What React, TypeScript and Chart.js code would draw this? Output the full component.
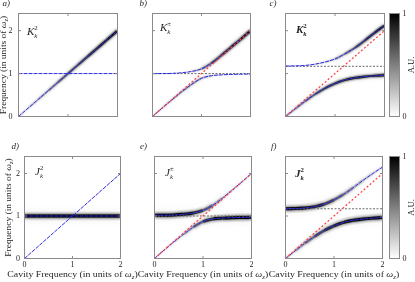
import React, { useEffect, useRef } from "react";
import { Chart, registerables } from "chart.js";
Chart.register(...registerables);

// ---------------- data ----------------
const X_GRID = [0, 0.2, 0.4, 0.6, 0.8, 1.0, 1.2, 1.4, 1.6, 1.8, 2.0];
const X_TICKS = [0, 1, 2];
const Y_TICKS = [0, 1, 2];
const CB_TICKS = [0, 1];

// bare modes (panels a, d)
const CAVITY_MODE = [0, 0.2, 0.4, 0.6, 0.8, 1.0, 1.2, 1.4, 1.6, 1.8, 2.0];
const MATTER_MODE = [1, 1, 1, 1, 1, 1, 1, 1, 1, 1, 1];

// polariton branches
const B_UPPER = [1.0, 1.0, 1.005, 1.02, 1.05, 1.11, 1.24, 1.42, 1.61, 1.8, 2.0];
const B_LOWER = [0, 0.2, 0.39, 0.58, 0.75, 0.89, 0.95, 0.97, 0.98, 0.985, 0.99];
const C_UPPER = [1.175, 1.18, 1.19, 1.22, 1.27, 1.34, 1.46, 1.6, 1.77, 1.95, 2.12];
const C_LOWER = [0, 0.18, 0.36, 0.52, 0.66, 0.77, 0.85, 0.9, 0.93, 0.95, 0.96];
const E_UPPER = [1.02, 1.02, 1.025, 1.04, 1.07, 1.13, 1.25, 1.42, 1.61, 1.8, 2.0];
const E_LOWER = [0, 0.2, 0.39, 0.57, 0.74, 0.87, 0.93, 0.95, 0.96, 0.965, 0.97];
const F_UPPER = [1.17, 1.175, 1.19, 1.22, 1.28, 1.38, 1.51, 1.67, 1.84, 2.0, 2.15];
const F_LOWER = [0, 0.18, 0.36, 0.52, 0.66, 0.77, 0.85, 0.9, 0.93, 0.95, 0.965];

// reference lines
const DIAG_X = [0, 2];
const DIAG_Y = [0, 2];
const B_BARE = [1.0, 1.0];
const C_BARE = [1.17, 1.17];
const E_BARE = [1.0, 1.0];
const F_BARE = [1.17, 1.17];

// spectral density intensity (A.U.) along each branch
const A_DIAG_INT = [0.05, 0.1, 0.15, 0.25, 0.35, 0.45, 0.55, 0.65, 0.75, 0.85, 0.95];
const B_UP_INT = [0.02, 0.02, 0.02, 0.03, 0.06, 0.2, 0.45, 0.6, 0.72, 0.85, 0.95];
const B_LO_INT = [0.05, 0.08, 0.12, 0.18, 0.22, 0.2, 0.1, 0.05, 0.03, 0.02, 0.02];
const C_UP_INT = [0.02, 0.02, 0.03, 0.05, 0.08, 0.15, 0.3, 0.45, 0.6, 0.75, 0.85];
const C_LO_INT = [0.1, 0.2, 0.3, 0.45, 0.6, 0.7, 0.75, 0.78, 0.8, 0.8, 0.8];
const D_MATTER_INT = [1, 1, 1, 1, 1, 1, 1, 1, 1, 1, 1];
const E_UP_INT = [1, 1, 1, 0.95, 0.8, 0.5, 0.25, 0.12, 0.06, 0.04, 0.03];
const E_LO_INT = [0.03, 0.04, 0.06, 0.1, 0.25, 0.5, 0.8, 0.95, 1, 1, 1];
const F_UP_INT = [0.95, 0.95, 0.9, 0.8, 0.65, 0.45, 0.3, 0.2, 0.12, 0.08, 0.06];
const F_LO_INT = [0.05, 0.12, 0.25, 0.4, 0.6, 0.75, 0.85, 0.9, 0.92, 0.92, 0.92];

// ---------------- styling helpers ----------------
const FONT = '"Liberation Serif", "Times New Roman", serif';
const TXT = "#262626";
const FRAME = "#8a8a8a";
const BLUE = "#2b2be6";

function line(xs: number[], ys: number[], extra: any) {
  return {
    data: xs.map((x, i) => ({ x, y: ys[i] })),
    pointRadius: 0,
    fill: false,
    borderWidth: 1,
    cubicInterpolationMode: "monotone",
    clip: 0,
    ...extra,
  };
}
const blue = (ys: number[]) => line(X_GRID, ys, { borderColor: BLUE, borderWidth: 1, borderDash: [4, 1] });
const red = () => line(DIAG_X, DIAG_Y, { borderColor: "#ff3b3b", borderWidth: 1.2, borderDash: [2, 2] });
const gray = (lvl: number[]) => line(DIAG_X, lvl, { borderColor: "#6a6a6a", borderWidth: 1, borderDash: [2, 1.5] });
function density(ys: number[], ints: number[], broad: boolean) {
  const seg = (k: number) => ({
    borderColor: (c: any) =>
      `rgba(0,0,0,${Math.min(1, ((ints[c.p0DataIndex] + ints[c.p1DataIndex]) / 2) * k).toFixed(3)})`,
  });
  return [
    line(X_GRID, ys, { borderWidth: broad ? 3 : 2.2, glow: broad ? 3 : 2.5, segment: seg(1), borderColor: "rgba(0,0,0,0)" }),
    line(X_GRID, ys, { borderWidth: broad ? 9 : 5, glow: broad ? 8 : 5, segment: seg(broad ? 0.06 : 0.1), borderColor: "rgba(0,0,0,0)" }),
  ];
}

type Part = { t: string; it?: boolean; b?: boolean; s?: number; dy?: number; over?: boolean };
function drawRich(ctx: CanvasRenderingContext2D, parts: Part[], x: number, y: number, size: number, align: string, sx = 1) {
  const fontOf = (p: Part) => `${p.it ? "italic " : ""}${p.b ? "bold " : ""}${(size * (p.s || 1)).toFixed(2)}px ${FONT}`;
  const pos: number[] = [];
  let cx = 0, last = 0;
  for (const p of parts) {
    ctx.font = fontOf(p);
    const w = ctx.measureText(p.t).width;
    if (p.over) { pos.push(last); cx = Math.max(cx, last + w); }
    else { pos.push(cx); last = cx; cx += w; }
  }
  const start = align === "center" ? -cx / 2 : 0;
  ctx.save();
  ctx.translate(x, y);
  ctx.scale(sx, 1);
  ctx.textBaseline = "alphabetic";
  ctx.textAlign = "left";
  parts.forEach((p, i) => { ctx.font = fontOf(p); ctx.fillText(p.t, start + pos[i], (p.dy || 0) * size); });
  ctx.restore();
}
const symbol = (base: string, sup: string, bold: boolean): Part[] => [
  { t: base, it: true, b: bold },
  { t: "k", it: true, b: bold, s: 0.62, dy: 0.3 },
  { t: sup, s: 0.62, dy: -0.42, over: true, b: bold },
];
const OMEGA_TITLE = (lead: string): Part[] => [
  { t: lead + "(in units of " },
  { t: "ω", it: true },
  { t: "z", it: true, s: 0.7, dy: 0.22 },
  { t: ")" },
];

const glowPlugin = {
  id: "glow",
  beforeDatasetDraw(chart: any, args: any) {
    const ds = chart.data.datasets[args.index];
    if (ds.glow) { chart.ctx.save(); chart.ctx.shadowColor = "rgba(0,0,0,1)"; chart.ctx.shadowBlur = ds.glow; }
  },
  afterDatasetDraw(chart: any, args: any) {
    const ds = chart.data.datasets[args.index];
    if (ds.glow) chart.ctx.restore();
  },
};

function framePlugin(p: any) {
  return {
    id: "frame",
    afterDraw(chart: any) {
      const { ctx, chartArea: a, scales } = chart;
      ctx.save();
      ctx.strokeStyle = FRAME;
      ctx.lineWidth = 1;
      ctx.strokeRect(a.left, a.top, a.right - a.left, a.bottom - a.top);
      if (!p.cb) {
        const tl = 2.5;
        ctx.beginPath();
        X_TICKS.forEach((v) => {
          const px = scales.x.getPixelForValue(v);
          ctx.moveTo(px, a.bottom); ctx.lineTo(px, a.bottom - tl);
          ctx.moveTo(px, a.top); ctx.lineTo(px, a.top + tl);
        });
        Y_TICKS.forEach((v) => {
          const py = scales.y.getPixelForValue(v);
          ctx.moveTo(a.left, py); ctx.lineTo(a.left + tl, py);
          ctx.moveTo(a.right, py); ctx.lineTo(a.right - tl, py);
        });
        ctx.stroke();
      }
      ctx.fillStyle = TXT;
      if (p.letter) drawRich(ctx, [{ t: p.letter.t, it: true }], p.letter.x - p.L, p.letter.y - p.T, 9, "left");
      if (p.sym) drawRich(ctx, p.sym.parts, p.sym.x - p.L, p.sym.y - p.T, 11, "left");
      if (p.yTitle) {
        ctx.save();
        ctx.translate(p.yTitle.x - p.L, (a.top + a.bottom) / 2);
        ctx.rotate(-Math.PI / 2);
        drawRich(ctx, OMEGA_TITLE("Frequency "), 0, 0, 8, "center", 1.18);
        ctx.restore();
      }
      if (p.xTitle) drawRich(ctx, OMEGA_TITLE("Cavity Frequency "), (a.left + a.right) / 2, p.xTitle - p.T, 8.5, "center", 1.15);
      if (p.cb) {
        ctx.save();
        ctx.translate(p.cbTitleX - p.L, (a.top + a.bottom) / 2);
        ctx.rotate(-Math.PI / 2);
        drawRich(ctx, [{ t: "A.U." }], 0, 0, 8.5, "center");
        ctx.restore();
      }
      ctx.restore();
    },
  };
}

function panelConfig(p: any) {
  const [x0, y0, x1, y1] = p.area;
  const tickFont = { family: FONT, size: 8 };
  return {
    type: "line",
    data: { datasets: p.datasets },
    options: {
      responsive: false,
      animation: false,
      events: [],
      layout: { padding: { left: 0, top: y0 - p.T, right: p.L + p.W - x1, bottom: 0 } },
      plugins: { legend: { display: false }, tooltip: { enabled: false } },
      scales: {
        x: {
          type: "linear", min: 0, max: 2,
          grid: { display: false, drawTicks: false }, border: { display: false },
          ticks: { display: !!p.xLabels, font: tickFont, color: TXT, padding: 2, maxRotation: 0 },
          afterBuildTicks: (ax: any) => { ax.ticks = X_TICKS.map((v) => ({ value: v })); },
          afterFit: (ax: any) => { ax.height = p.T + p.H - y1; },
        },
        y: {
          type: "linear", min: 0, max: 2.4,
          grid: { display: false, drawTicks: false }, border: { display: false },
          ticks: { display: !!p.yLabels, autoSkip: false, font: tickFont, color: TXT, padding: p.yPad || 4 },
          afterBuildTicks: (ax: any) => { ax.ticks = Y_TICKS.map((v) => ({ value: v })); },
          afterFit: (ax: any) => { ax.width = x0 - p.L; },
        },
      },
    },
    plugins: [glowPlugin, framePlugin(p)],
  };
}

function colorbarConfig(p: any) {
  const [x0, y0, x1, y1] = p.area;
  return {
    type: "bar",
    data: {
      labels: [""],
      datasets: [{
        data: [1],
        barPercentage: 1,
        categoryPercentage: 1,
        borderWidth: 0,
        backgroundColor: (c: any) => {
          const { ctx, chartArea } = c.chart;
          if (!chartArea) return "#888";
          const g = ctx.createLinearGradient(0, chartArea.bottom, 0, chartArea.top);
          g.addColorStop(0, "#ffffff");
          g.addColorStop(1, "#000000");
          return g;
        },
      }],
    },
    options: {
      responsive: false,
      animation: false,
      events: [],
      layout: { padding: { left: x0 - p.L, top: y0 - p.T, right: 0, bottom: 0 } },
      plugins: { legend: { display: false }, tooltip: { enabled: false } },
      scales: {
        x: {
          grid: { display: false, drawTicks: false }, border: { display: false }, ticks: { display: false },
          afterFit: (ax: any) => { ax.height = p.T + p.H - y1; },
        },
        y: {
          position: "right", min: 0, max: 1,
          grid: { display: false, drawTicks: false }, border: { display: false },
          ticks: { font: { family: FONT, size: 8 }, color: TXT, padding: 3 },
          afterBuildTicks: (ax: any) => { ax.ticks = CB_TICKS.map((v) => ({ value: v })); },
          afterFit: (ax: any) => { ax.width = p.L + p.W - x1; },
        },
      },
    },
    plugins: [framePlugin(p)],
  };
}

const PANELS: any[] = [
  {
    id: "a", L: 0, T: 0, W: 140, H: 140, area: [18.5, 13.5, 117.5, 116.5], yLabels: true, yPad: 6,
    letter: { t: "a)", x: 2.5, y: 5.5 }, sym: { parts: symbol("K", "2", false), x: 27, y: 35 }, yTitle: { x: 6.3 },
    datasets: [blue(CAVITY_MODE), blue(MATTER_MODE), ...density(CAVITY_MODE, A_DIAG_INT, false)],
  },
  {
    id: "b", L: 135, T: 0, W: 137, H: 140, area: [152.5, 13.5, 250.5, 116.5],
    letter: { t: "b)", x: 139.5, y: 5.5 }, sym: { parts: symbol("K", "±", false), x: 160, y: 31 },
    datasets: [red(), blue(B_UPPER), blue(B_LOWER), gray(B_BARE), ...density(B_UPPER, B_UP_INT, false), ...density(B_LOWER, B_LO_INT, false)],
  },
  {
    id: "c", L: 265, T: 0, W: 122, H: 140, area: [285.5, 13.5, 384.5, 116.5],
    letter: { t: "c)", x: 269.5, y: 5.5 }, sym: { parts: symbol("K", "2", true), x: 296, y: 33 },
    datasets: [red(), blue(C_UPPER), blue(C_LOWER), gray(C_BARE), ...density(C_UPPER, C_UP_INT, false), ...density(C_LOWER, C_LO_INT, false)],
  },
  {
    id: "d", L: 0, T: 140, W: 140, H: 142, area: [24.5, 156.5, 120.5, 258.5], yLabels: true, yPad: 4.5, xLabels: true,
    letter: { t: "d)", x: 11.5, y: 149 }, sym: { parts: symbol("J", "2", false), x: 35, y: 175 }, yTitle: { x: 11 }, xTitle: 277,
    datasets: [blue(CAVITY_MODE), blue(MATTER_MODE), ...density(MATTER_MODE, D_MATTER_INT, true)],
  },
  {
    id: "e", L: 135, T: 140, W: 137, H: 142, area: [154.5, 156.5, 251.5, 258.5], xLabels: true,
    letter: { t: "e)", x: 140, y: 149 }, sym: { parts: symbol("J", "±", false), x: 165, y: 176 }, xTitle: 277,
    datasets: [red(), blue(E_UPPER), blue(E_LOWER), gray(E_BARE), ...density(E_UPPER, E_UP_INT, true), ...density(E_LOWER, E_LO_INT, true)],
  },
  {
    id: "f", L: 265, T: 140, W: 140, H: 142, area: [285.5, 156.5, 382.5, 258.5], xLabels: true,
    letter: { t: "f)", x: 271, y: 149 }, sym: { parts: symbol("J", "2", true), x: 295, y: 177 }, xTitle: 277,
    datasets: [red(), blue(F_UPPER), blue(F_LOWER), gray(F_BARE), ...density(F_UPPER, F_UP_INT, true), ...density(F_LOWER, F_LO_INT, true)],
  },
];

const COLORBARS: any[] = [
  { id: "cb1", cb: true, L: 386, T: 0, W: 29, H: 140, area: [389.5, 13.5, 399.5, 116.5], cbTitleX: 413.5 },
  { id: "cb2", cb: true, L: 386, T: 140, W: 29, H: 142, area: [389.5, 156.5, 399.5, 258.5], cbTitleX: 413.5 },
];

function ChartCanvas({ spec, make }: { spec: any; make: (p: any) => any }) {
  const ref = useRef<HTMLCanvasElement | null>(null);
  useEffect(() => {
    const chart = new Chart(ref.current as HTMLCanvasElement, make(spec));
    return () => chart.destroy();
  }, []);
  return (
    <canvas
      ref={ref}
      width={spec.W}
      height={spec.H}
      style={{ position: "absolute", left: spec.L, top: spec.T, width: spec.W, height: spec.H }}
    />
  );
}

export default function App() {
  return (
    <div style={{ position: "absolute", left: 0, top: 0, width: 415, height: 282, background: "#ffffff", overflow: "hidden" }}>
      {PANELS.map((p) => (
        <ChartCanvas key={p.id} spec={p} make={panelConfig} />
      ))}
      {COLORBARS.map((p) => (
        <ChartCanvas key={p.id} spec={p} make={colorbarConfig} />
      ))}
    </div>
  );
}
